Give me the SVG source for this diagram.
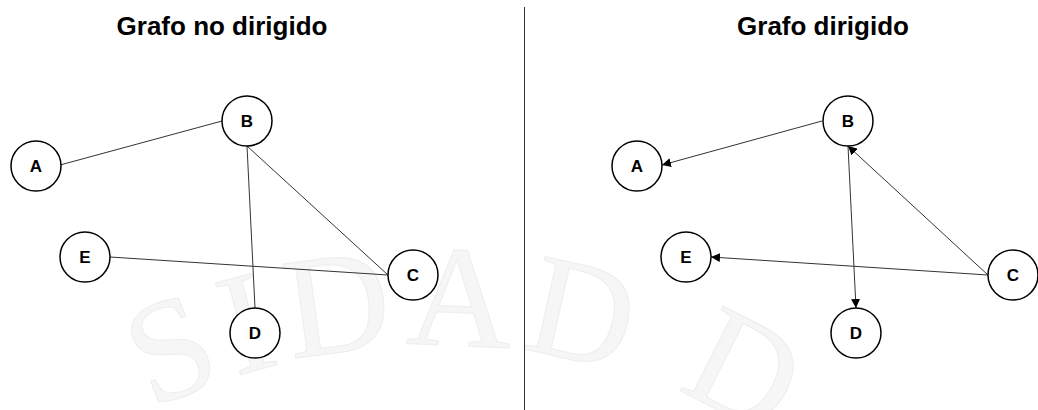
<svg xmlns="http://www.w3.org/2000/svg" width="1038" height="410" viewBox="0 0 1038 410">
  <style>
    .title { font-family: "Liberation Sans", Arial, sans-serif; font-weight: bold; font-size: 26px; fill: #000; text-anchor: middle; }
    .node circle { fill: #fff; stroke: #000; stroke-width: 1.5; }
    .node text { font-family: "Liberation Sans", Arial, sans-serif; font-weight: bold; font-size: 17px; fill: #000; text-anchor: middle; }
    .edge { stroke: #333; stroke-width: 1; fill: none; }
    .arrow { marker-end: url(#head); }
    .mark { font-family: "Liberation Serif", "Times New Roman", serif; font-size: 145px; letter-spacing: 10px; fill: #f6f6f6; stroke: #ededed; stroke-width: 1; }
  </style>
  <defs>
    <marker id="head" viewBox="0 0 10 10" refX="10" refY="5" markerWidth="9" markerHeight="9" markerUnits="userSpaceOnUse" orient="auto">
      <path d="M0,0 L10,5 L0,10 z" fill="#000"/>
    </marker>
    <path id="markArc" d="M125,424 A650,650 0 0,1 795,454"/>
  </defs>

  <rect width="1038" height="410" fill="#fff"/>

  <!-- background watermark lettering -->
  <text class="mark"><textPath href="#markArc" startOffset="30">SIDAD D</textPath></text>

  <!-- divider between the two graphs -->
  <line x1="524.5" y1="7" x2="524.5" y2="410" stroke="#333" stroke-width="1"/>

  <text class="title" x="222" y="35">Grafo no dirigido</text>
  <text class="title" x="823" y="35">Grafo dirigido</text>

  <!-- connectors -->
  <g id="edges">
    <!-- undirected graph -->
    <line class="edge" x1="60" y1="165" x2="222" y2="121"/>
    <line class="edge" x1="247" y1="146" x2="255" y2="308"/>
    <line class="edge" x1="247" y1="146" x2="388" y2="275"/>
    <line class="edge" x1="110" y1="257" x2="388" y2="275"/>
    <!-- directed graph -->
    <line class="edge arrow" x1="822" y1="121" x2="662" y2="165"/>
    <line class="edge arrow" x1="848" y1="146" x2="856" y2="308"/>
    <line class="edge arrow" x1="988" y1="275" x2="848" y2="146"/>
    <line class="edge arrow" x1="988" y1="275" x2="711" y2="257"/>
  </g>

  <!-- undirected graph nodes -->
  <g id="u-A" class="node"><circle cx="36" cy="166" r="25"/><text x="36" y="172">A</text></g>
  <g id="u-B" class="node"><circle cx="247" cy="121" r="25"/><text x="247" y="127">B</text></g>
  <g id="u-C" class="node"><circle cx="413" cy="275" r="25"/><text x="413" y="281">C</text></g>
  <g id="u-D" class="node"><circle cx="255" cy="333" r="25"/><text x="255" y="339">D</text></g>
  <g id="u-E" class="node"><circle cx="85" cy="257" r="25"/><text x="85" y="263">E</text></g>

  <!-- directed graph nodes -->
  <g id="d-A" class="node"><circle cx="637" cy="166" r="25"/><text x="637" y="172">A</text></g>
  <g id="d-B" class="node"><circle cx="848" cy="121" r="25"/><text x="848" y="127">B</text></g>
  <g id="d-C" class="node"><circle cx="1013" cy="275" r="25"/><text x="1013" y="281">C</text></g>
  <g id="d-D" class="node"><circle cx="856" cy="333" r="25"/><text x="856" y="339">D</text></g>
  <g id="d-E" class="node"><circle cx="686" cy="257" r="25"/><text x="686" y="263">E</text></g>
</svg>
